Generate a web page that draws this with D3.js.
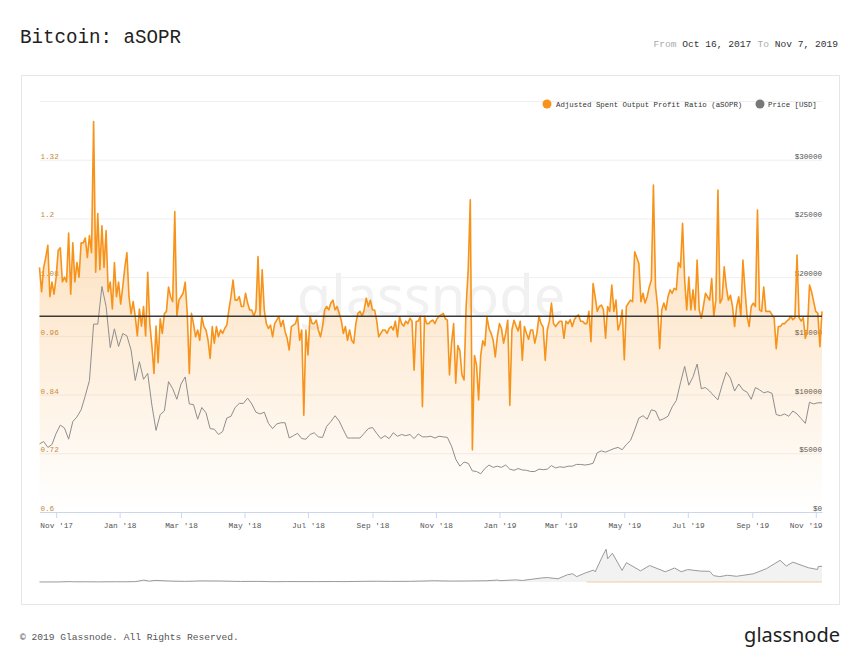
<!DOCTYPE html>
<html>
<head>
<meta charset="utf-8">
<style>
  body { margin: 0; background: #fff; }
  svg text { font-family: "Liberation Mono", "DejaVu Sans Mono", monospace; }
  svg text.sans { font-family: "Noto Sans", "Open Sans", sans-serif; }
</style>
</head>
<body>
<div id="chart"></div>
<script src="https://cdnjs.cloudflare.com/ajax/libs/d3/7.8.5/d3.min.js"></script>
<script>
// ---- data -------------------------------------------------------------
var startDate = "2017-10-16";
var endDate = "2019-11-07";

// aSOPR, one value every 2 days from startDate
var soprStep = 2;
var soprValues = [
  1.10, 1.05, 1.10, 1.12, 1.145, 1.04, 1.07, 1.045, 1.08, 1.135,
  1.14, 1.07, 1.08, 1.07, 1.17, 1.045, 1.15, 1.07, 1.11, 1.08,
  1.15, 1.15, 1.16, 1.12, 1.165, 1.13, 1.398, 1.09, 1.21, 1.095,
  1.185, 1.10, 1.175, 1.05, 1.07, 1.015, 1.11, 1.04, 1.07, 1.025,
  1.06, 1.10, 1.13, 1.04, 1.005, 1.03, 1.0, 0.96, 1.015, 0.98,
  1.02, 0.96, 1.09, 0.985, 0.94, 0.883, 0.98, 0.905, 0.995, 0.965,
  1.005, 1.01, 1.06, 1.04,
  1.03, 1.214, 1.0, 1.033, 1.04, 1.047, 1.07, 1.006, 0.883, 1.006,
  0.985, 0.958, 0.972, 0.951, 0.999, 0.979, 0.972, 0.951, 0.914, 0.979,
  0.945, 0.979, 0.958, 0.972, 0.965, 0.975, 0.982, 1.013, 1.04, 1.074,
  1.033, 1.033, 1.04, 1.02, 1.02, 1.047, 1.027, 1.013, 1.013, 1.0,
  1.013, 1.122, 1.0, 1.095, 1.013, 0.985, 0.975, 0.982, 0.958, 0.985,
  0.992, 1.0, 0.979, 0.992, 0.969, 0.955, 0.931, 0.979, 0.982, 0.985,
  1.0, 0.951, 0.972,
  0.798, 0.972, 0.921, 1.0, 0.985, 0.985, 0.992, 0.972, 0.958, 0.979,
  1.013, 1.02, 1.013, 1.027, 1.033, 1.013, 1.02, 1.006, 0.992, 0.965,
  0.979, 0.951, 0.972, 0.951, 0.945, 0.985, 1.006, 1.01, 1.0, 1.013,
  1.037, 1.02, 1.033, 1.013, 1.013, 0.992, 0.958, 0.965, 0.972, 0.972,
  0.965, 0.975, 0.979, 0.972, 0.99, 0.958, 0.999, 0.985, 0.98, 0.99,
  0.985, 0.996, 0.99, 0.89, 0.99, 0.99, 1.0, 0.815, 1.0, 0.985,
  0.985, 0.99,
  0.992, 0.985, 0.995, 1.0, 1.003, 1.006, 0.995, 0.992, 0.88, 0.945,
  0.985, 0.863, 0.94, 0.93, 0.88, 0.87, 1.02, 1.095, 1.238, 0.727,
  0.92, 0.9, 0.829, 0.92, 0.95, 0.94, 0.999, 0.975, 0.965, 0.951,
  0.917, 0.958, 0.985, 0.975, 0.945, 0.965, 0.992, 0.818, 0.972, 0.992,
  0.98, 0.97, 0.99, 0.91, 0.979, 0.965, 0.953, 0.972, 0.972, 0.945,
  0.965, 1.0, 0.985, 0.978, 0.91, 0.972, 0.99, 1.027, 0.985, 0.979,
  0.985, 0.99,
  0.99, 0.955, 0.99, 0.985, 0.993, 0.979, 0.993, 1.0, 1.003, 0.99,
  0.99, 0.985, 0.985, 1.01, 0.948, 1.067, 1.04, 1.01, 1.02, 1.023,
  1.013, 0.955, 1.02, 1.01, 1.064, 1.01, 1.033, 0.972, 0.985, 1.013,
  0.911, 1.02, 1.027, 1.033, 1.03, 1.132, 1.12, 1.108, 1.03, 1.047,
  1.027, 1.04, 1.06, 1.074, 1.268, 1.06, 1.02, 0.934, 1.013, 1.027,
  1.013, 1.04, 1.054, 1.047, 1.057, 1.054, 1.11, 1.10, 1.19, 1.074,
  1.013, 1.08, 1.013, 1.054, 1.013, 1.115, 1.013, 0.996, 1.02, 1.047,
  1.04, 1.033, 1.077, 1.0, 1.033, 1.258, 1.027, 1.036, 1.101, 1.06,
  1.033, 1.043, 1.02, 0.979, 1.02, 1.04, 1.0, 1.115, 1.054, 1.0,
  0.979, 1.02, 1.027, 1.02, 1.217, 1.013, 1.01, 1.06, 1.01, 1.01,
  1.01, 1.003, 0.997, 0.934, 0.979, 0.979, 0.985, 0.985, 0.99, 0.993,
  1.0, 0.993, 0.997, 1.125, 0.997, 0.99, 0.997, 0.955, 0.972, 1.064,
  1.05, 1.03, 1.01, 1.006, 0.938, 1.01
];

// BTC price [USD], one value every 4 days from startDate
var priceStep = 4;
var priceValues = [
  5800, 6000, 5500, 5750, 6700, 7400, 7150, 6200, 7700, 8100,
  8700, 9900, 11200, 16000, 16000, 19200, 17500, 14000, 15600, 14100,
  15200, 15000, 13800, 11200, 12800, 11300, 11800, 9100, 6950, 8300,
  8600, 11100, 10500, 9600, 10900, 11500, 9200, 9150, 7900, 8900,
  8450, 7100, 7050, 6600, 6850, 8000, 8150, 8900, 9250, 9250,
  9700, 9200, 8500, 8350, 8500, 7550, 7100, 7500, 7600, 7600,
  6300, 6500, 6700, 6250, 6200, 6600, 6750, 6400, 6350, 7300,
  7700, 8200, 7750, 7000, 6300, 6300, 6300, 6300, 6700, 7100,
  7200, 6700, 6250, 6500, 6250, 6750, 6450, 6600, 6500, 6600,
  6250, 6650, 6400, 6400, 6450, 6300, 6450, 6400, 6350, 5600,
  4500, 3900, 4250, 4150, 3500, 3450, 3250, 3700, 4000, 3800,
  3900, 3800, 4000, 3650, 3550, 3700, 3580, 3550, 3450, 3450,
  3650, 3600, 3650, 3950, 3750, 3850, 3800, 3900, 3900, 4050,
  4050, 4000, 4050, 4150, 5050, 5200, 5100, 5250, 5400, 5500,
  5300, 5750, 6100, 7000, 8000, 8200, 7900, 8700, 8600, 7800,
  7950, 8150, 8950, 9500, 11000, 12400, 10800, 11500, 12600, 10500,
  10600, 10300, 9900, 9550, 10800, 11900, 11400, 10300, 10900, 10400,
  10200, 9600, 10600, 10400, 10150, 10250, 10100, 8300, 8200, 8350,
  8150, 8600, 8350, 7950, 7550, 9350, 9200, 9300, 9300
];

var leftTicks = [0.6, 0.72, 0.84, 0.96, 1.08, 1.2, 1.32];
var rightTicks = [0, 5000, 10000, 15000, 20000, 25000, 30000];
var monthTicks = ["2017-11-01", "2018-01-01", "2018-03-01", "2018-05-01", "2018-07-01",
  "2018-09-01", "2018-11-01", "2019-01-01", "2019-03-01", "2019-05-01", "2019-07-01",
  "2019-09-01", "2019-11-01"];

// navigator: full price history
var navDates = ["2013-01-01", "2013-03-01", "2013-04-09", "2013-04-20", "2013-06-01", "2013-07-05",
  "2013-09-01", "2013-10-01", "2013-11-05", "2013-11-30", "2013-12-18", "2014-01-05", "2014-02-25",
  "2014-04-10", "2014-06-01", "2014-08-01", "2014-10-05", "2014-12-01", "2015-01-14", "2015-03-01",
  "2015-06-01", "2015-08-01", "2015-09-01", "2015-11-04", "2015-12-15", "2016-02-01", "2016-04-01",
  "2016-06-17", "2016-08-02", "2016-10-01", "2016-12-01", "2017-01-04", "2017-01-12", "2017-03-03",
  "2017-03-24", "2017-05-25", "2017-06-12", "2017-07-16", "2017-08-15", "2017-09-01", "2017-09-14",
  "2017-10-12", "2017-11-07", "2017-11-12", "2017-12-07", "2017-12-17", "2017-12-22", "2018-01-06",
  "2018-02-06", "2018-02-20", "2018-04-06", "2018-05-05", "2018-06-24", "2018-07-24", "2018-08-14",
  "2018-09-04", "2018-10-14", "2018-11-13", "2018-11-25", "2018-12-15", "2019-01-09", "2019-02-07",
  "2019-04-02", "2019-05-14", "2019-06-26", "2019-07-16", "2019-08-06", "2019-09-24", "2019-10-24",
  "2019-10-26", "2019-11-07"];
var navPrice = [13, 34, 230, 120, 128, 70,
  140, 125, 250, 1130, 520, 950, 540,
  380, 650, 590, 320, 380, 180, 255,
  225, 280, 230, 400, 450, 370, 415,
  750, 550, 610, 750, 1150, 780, 1280,
  900, 2400, 2650, 1900, 4300, 4900, 3200,
  5400, 7100, 6000, 16000, 19500, 13800, 17100,
  6900, 11500, 6600, 9800, 6100, 8300, 6100,
  7400, 6500, 6350, 3800, 3200, 4000, 3400,
  4900, 8000, 12900, 9500, 11800, 8500, 7450,
  9250, 9300];

// ---- chart ------------------------------------------------------------
var parse = d3.timeParse("%Y-%m-%d");
var start = parse(startDate), end = parse(endDate);

var sopr = soprValues.map(function(v, i) {
  return {date: d3.timeDay.offset(start, i * soprStep), value: v};
});
var price = priceValues.map(function(v, i) {
  return {date: d3.timeDay.offset(start, i * priceStep), value: v};
});
var nav = navPrice.map(function(v, i) {
  return {date: parse(navDates[i]), value: v};
});

var svg = d3.select("#chart").append("svg")
  .attr("width", 860)
  .attr("height", 662);

// header
svg.append("text")
  .attr("x", 20).attr("y", 43)
  .attr("font-size", 20)
  .attr("textLength", 161).attr("lengthAdjust", "spacingAndGlyphs")
  .attr("fill", "#222")
  .text("Bitcoin: aSOPR");

var fmtHead = d3.timeFormat("%b %-d, %Y");
var range = svg.append("text")
  .attr("x", 838).attr("y", 47)
  .attr("font-size", 9.6)
  .attr("text-anchor", "end");
range.append("tspan").attr("fill", "#aaa").text("From ");
range.append("tspan").attr("fill", "#333").text(fmtHead(start));
range.append("tspan").attr("fill", "#aaa").attr("dx", 6).text("To ");
range.append("tspan").attr("fill", "#333").text(fmtHead(end));

// card
svg.append("rect")
  .attr("x", 21.5).attr("y", 75.5)
  .attr("width", 818).attr("height", 529)
  .attr("fill", "#fff")
  .attr("stroke", "#e6e6e6");

var x = d3.scaleTime().domain([start, end]).range([39.5, 822]);
var yL = d3.scaleLinear().domain([0.6, 1.44]).range([512, 101]);
var yR = d3.scaleLinear().domain([0, 35000]).range([512, 101]);

// grid lines
var grid = svg.append("g")
  .attr("transform", "translate(39.5,0)")
  .call(d3.axisRight(yL).tickValues(leftTicks.slice(1).concat([1.44]))
    .tickSize(x.range()[1] - x.range()[0]).tickFormat(""));
grid.select(".domain").remove();
grid.selectAll("line").attr("stroke", "#efefef");

// left labels, inside the plot
var axL = svg.append("g")
  .attr("transform", "translate(39.5,0)")
  .call(d3.axisRight(yL).tickValues(leftTicks).tickSize(0).tickPadding(1)
    .tickFormat(function(d) { return d3.format("")(+d.toFixed(2)); }));
axL.select(".domain").remove();
axL.selectAll("text")
  .attr("dy", -1.5)
  .attr("font-size", 7.6)
  .attr("font-family", null)
  .attr("fill", "#c4883a");

// right labels
var axR = svg.append("g")
  .attr("transform", "translate(822,0)")
  .call(d3.axisLeft(yR).tickValues(rightTicks).tickSize(0).tickPadding(0)
    .tickFormat(function(d) { return "$" + d; }));
axR.select(".domain").remove();
axR.selectAll("text")
  .attr("dy", -1.5)
  .attr("font-size", 7.6)
  .attr("font-family", null)
  .attr("fill", "#555");

// x axis
var tickDates = monthTicks.map(parse);
var axX = svg.append("g")
  .attr("transform", "translate(0,512)")
  .call(d3.axisBottom(x).tickValues(tickDates).tickSize(6).tickSizeOuter(0).tickPadding(4)
    .tickFormat(d3.timeFormat("%b '%y")));
axX.select(".domain").attr("stroke", "#ccd6eb");
axX.selectAll("line").attr("stroke", "#ccd6eb");
axX.selectAll("text")
  .attr("font-size", 7.8)
  .attr("font-family", null)
  .attr("fill", "#555");
axX.selectAll(".tick").filter(function(d, i, n) { return i === n.length - 1; })
  .select("text")
  .attr("text-anchor", "end")
  .attr("x", function(d) { return x.range()[1] - x(d); });

// watermark
svg.append("text")
  .attr("class", "sans")
  .attr("x", 431).attr("y", 316)
  .attr("text-anchor", "middle")
  .attr("font-size", 56)
  .attr("fill", "#f1f1f1")
  .text("glassnode");

// aSOPR area
var defs = svg.append("defs");
var grad = defs.append("linearGradient")
  .attr("id", "soprFill")
  .attr("gradientUnits", "userSpaceOnUse")
  .attr("x1", 0).attr("x2", 0)
  .attr("y1", yL.range()[1]).attr("y2", yL.range()[0]);
grad.append("stop").attr("offset", 0).attr("stop-color", "#f7931a").attr("stop-opacity", 0.4);
grad.append("stop").attr("offset", 1).attr("stop-color", "#f7931a").attr("stop-opacity", 0);

svg.append("path")
  .datum(sopr)
  .attr("fill", "url(#soprFill)")
  .attr("d", d3.area()
    .x(function(d) { return x(d.date); })
    .y0(yL(0.6))
    .y1(function(d) { return yL(d.value); }));

svg.append("path")
  .datum(sopr)
  .attr("fill", "none")
  .attr("stroke", "#f7931a")
  .attr("stroke-width", 1.6)
  .attr("stroke-linejoin", "round")
  .attr("d", d3.line()
    .x(function(d) { return x(d.date); })
    .y(function(d) { return yL(d.value); }));

// price
svg.append("path")
  .datum(price)
  .attr("fill", "none")
  .attr("stroke", "#8e8e8e")
  .attr("stroke-width", 1)
  .attr("d", d3.line()
    .x(function(d) { return x(d.date); })
    .y(function(d) { return yR(d.value); }));

// aSOPR = 1
svg.append("line")
  .attr("x1", x.range()[0]).attr("x2", x.range()[1])
  .attr("y1", yL(1)).attr("y2", yL(1))
  .attr("stroke", "#3a3a3a")
  .attr("stroke-width", 1.6);

// legend
var legend = svg.append("g").attr("font-size", 7.4);
legend.append("circle").attr("cx", 547).attr("cy", 104).attr("r", 4.5).attr("fill", "#f7931a");
legend.append("text").attr("x", 556).attr("y", 106.8).attr("fill", "#333")
  .text("Adjusted Spent Output Profit Ratio (aSOPR)");
legend.append("circle").attr("cx", 760).attr("cy", 104).attr("r", 4.5).attr("fill", "#777");
legend.append("text").attr("x", 768).attr("y", 106.8).attr("fill", "#333")
  .text("Price [USD]");

// navigator
var xNav = d3.scaleTime().domain([nav[0].date, end]).range([39.5, 822]);
var yNav = d3.scaleLinear().domain([0, 22000]).range([582, 545]);

svg.append("path")
  .datum(nav)
  .attr("fill", "#f2f2f2")
  .attr("d", d3.area()
    .x(function(d) { return xNav(d.date); })
    .y0(yNav(0))
    .y1(function(d) { return yNav(d.value); }));

svg.append("path")
  .datum(sopr)
  .attr("fill", "none")
  .attr("stroke", "#f3c48e")
  .attr("stroke-width", 1)
  .attr("d", d3.line()
    .x(function(d) { return xNav(d.date); })
    .y(function(d) { return yNav(d.value); }));

svg.append("path")
  .datum(nav)
  .attr("fill", "none")
  .attr("stroke", "#9a9a9a")
  .attr("stroke-width", 1)
  .attr("d", d3.line()
    .x(function(d) { return xNav(d.date); })
    .y(function(d) { return yNav(d.value); }));

// footer
svg.append("text")
  .attr("x", 20).attr("y", 640)
  .attr("font-size", 9.6)
  .attr("fill", "#555")
  .text("\u00a9 2019 Glassnode. All Rights Reserved.");

svg.append("text")
  .attr("class", "sans")
  .attr("x", 840).attr("y", 642)
  .attr("text-anchor", "end")
  .attr("font-size", 20)
  .attr("fill", "#1e1e1e")
  .text("glassnode");
</script>
</body>
</html>
